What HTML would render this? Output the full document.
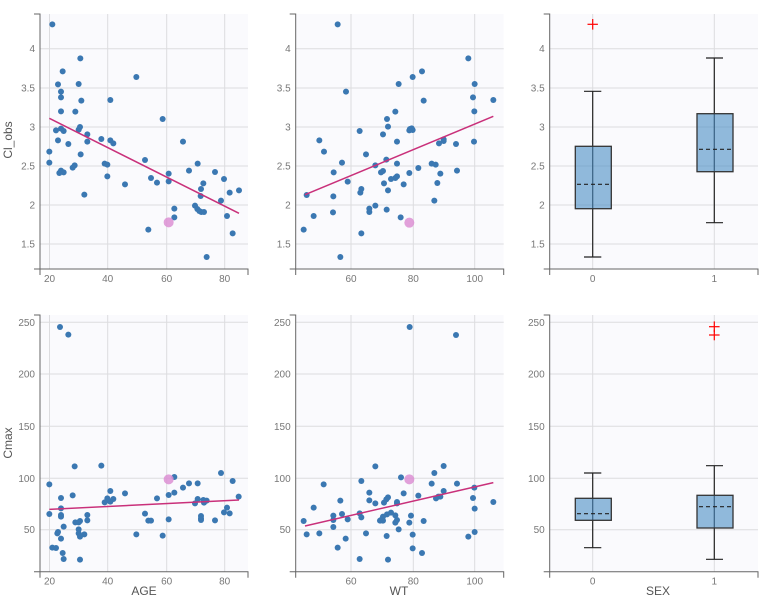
<!DOCTYPE html>
<html><head><meta charset="utf-8"><style>
html,body{margin:0;padding:0;background:#fff;}
svg{display:block;font-family:"Liberation Sans",sans-serif;}
.bg{fill:#fafafd;}
.g{stroke:#dcdcdf;stroke-width:1;}
.ax{stroke:#666;stroke-width:1;fill:none;}
.tl{font-size:10px;fill:#777;}
.tt{font-size:12px;fill:#555;}
.d circle{fill:#3b78b2;}
.bx{fill:#4a8dc4;fill-opacity:0.6;stroke:#333;stroke-width:1.3;}
.wk{stroke:#222;stroke-width:1.2;}
.md{stroke:#222;stroke-width:1.2;stroke-dasharray:4,3;}
.out{stroke:#f00;stroke-width:1.2;}
</style></head><body>
<svg width="768" height="602" viewBox="0 0 768 602" xmlns="http://www.w3.org/2000/svg">
<rect class="bg" x="40" y="14" width="208" height="255"/>
<rect class="bg" x="295.7" y="14" width="208" height="255"/>
<rect class="bg" x="549.7" y="14" width="208.3" height="255"/>
<rect class="bg" x="40" y="315" width="208" height="256.7"/>
<rect class="bg" x="295.7" y="315" width="208" height="256.7"/>
<rect class="bg" x="549.7" y="315" width="208.3" height="256.7"/>

<g class="g">
<line x1="40" x2="248" y1="48.7" y2="48.7"/><line x1="40" x2="248" y1="88" y2="88"/><line x1="40" x2="248" y1="127" y2="127"/><line x1="40" x2="248" y1="166" y2="166"/><line x1="40" x2="248" y1="205" y2="205"/><line x1="40" x2="248" y1="244" y2="244"/>
<line x1="49.5" x2="49.5" y1="14" y2="269"/><line x1="107.7" x2="107.7" y1="14" y2="269"/><line x1="166.7" x2="166.7" y1="14" y2="269"/><line x1="224.7" x2="224.7" y1="14" y2="269"/>
<line x1="295.7" x2="503.7" y1="48.7" y2="48.7"/><line x1="295.7" x2="503.7" y1="88" y2="88"/><line x1="295.7" x2="503.7" y1="127" y2="127"/><line x1="295.7" x2="503.7" y1="166" y2="166"/><line x1="295.7" x2="503.7" y1="205" y2="205"/><line x1="295.7" x2="503.7" y1="244" y2="244"/>
<line x1="351" x2="351" y1="14" y2="269"/><line x1="413.3" x2="413.3" y1="14" y2="269"/><line x1="474.7" x2="474.7" y1="14" y2="269"/>
<line x1="549.7" x2="758" y1="48.7" y2="48.7"/><line x1="549.7" x2="758" y1="88" y2="88"/><line x1="549.7" x2="758" y1="127" y2="127"/><line x1="549.7" x2="758" y1="166" y2="166"/><line x1="549.7" x2="758" y1="205" y2="205"/><line x1="549.7" x2="758" y1="244" y2="244"/>
<line x1="592.7" x2="592.7" y1="14" y2="269"/><line x1="714.3" x2="714.3" y1="14" y2="269"/>
<line x1="40" x2="248" y1="322.3" y2="322.3"/><line x1="40" x2="248" y1="374" y2="374"/><line x1="40" x2="248" y1="426.3" y2="426.3"/><line x1="40" x2="248" y1="478.3" y2="478.3"/><line x1="40" x2="248" y1="529.7" y2="529.7"/>
<line x1="49.5" x2="49.5" y1="315" y2="571.7"/><line x1="107.7" x2="107.7" y1="315" y2="571.7"/><line x1="166.7" x2="166.7" y1="315" y2="571.7"/><line x1="224.7" x2="224.7" y1="315" y2="571.7"/>
<line x1="295.7" x2="503.7" y1="322.3" y2="322.3"/><line x1="295.7" x2="503.7" y1="374" y2="374"/><line x1="295.7" x2="503.7" y1="426.3" y2="426.3"/><line x1="295.7" x2="503.7" y1="478.3" y2="478.3"/><line x1="295.7" x2="503.7" y1="529.7" y2="529.7"/>
<line x1="351" x2="351" y1="315" y2="571.7"/><line x1="413.3" x2="413.3" y1="315" y2="571.7"/><line x1="474.7" x2="474.7" y1="315" y2="571.7"/>
<line x1="549.7" x2="758" y1="322.3" y2="322.3"/><line x1="549.7" x2="758" y1="374" y2="374"/><line x1="549.7" x2="758" y1="426.3" y2="426.3"/><line x1="549.7" x2="758" y1="478.3" y2="478.3"/><line x1="549.7" x2="758" y1="529.7" y2="529.7"/>
<line x1="592.7" x2="592.7" y1="315" y2="571.7"/><line x1="714.3" x2="714.3" y1="315" y2="571.7"/>
</g>

<g transform="scale(0.33333)">
<g class="d">
<circle cx="157" cy="73" r="9"/><circle cx="241" cy="175" r="9"/><circle cx="188" cy="214" r="9"/><circle cx="174" cy="253" r="9"/><circle cx="236" cy="252" r="9"/><circle cx="183" cy="275" r="9"/><circle cx="183" cy="292" r="9"/><circle cx="244" cy="302" r="9"/><circle cx="331" cy="300" r="9"/><circle cx="183" cy="334" r="9"/><circle cx="226" cy="335" r="9"/><circle cx="409" cy="231" r="9"/><circle cx="168" cy="391" r="9"/><circle cx="183" cy="386" r="9"/><circle cx="191" cy="393" r="9"/><circle cx="236" cy="389" r="9"/><circle cx="240" cy="381" r="9"/><circle cx="174" cy="421" r="9"/><circle cx="205" cy="432" r="9"/><circle cx="262" cy="403" r="9"/><circle cx="262" cy="425" r="9"/><circle cx="304" cy="417" r="9"/><circle cx="331" cy="421" r="9"/><circle cx="340" cy="430" r="9"/><circle cx="488" cy="357" r="9"/><circle cx="549" cy="425" r="9"/><circle cx="148" cy="455" r="9"/><circle cx="148" cy="488" r="9"/><circle cx="435" cy="480" r="9"/><circle cx="178" cy="519" r="9"/><circle cx="183" cy="512" r="9"/><circle cx="191" cy="517" r="9"/><circle cx="218" cy="503" r="9"/><circle cx="224" cy="496" r="9"/><circle cx="242" cy="463" r="9"/><circle cx="314" cy="491" r="9"/><circle cx="322" cy="494" r="9"/><circle cx="322" cy="529" r="9"/><circle cx="375" cy="553" r="9"/><circle cx="453" cy="534" r="9"/><circle cx="471" cy="548" r="9"/><circle cx="506" cy="521" r="9"/><circle cx="506" cy="544" r="9"/><circle cx="567" cy="512" r="9"/><circle cx="593" cy="491" r="9"/><circle cx="645" cy="516" r="9"/><circle cx="672" cy="537" r="9"/><circle cx="603" cy="567" r="9"/><circle cx="602" cy="588" r="9"/><circle cx="610" cy="550" r="9"/><circle cx="689" cy="578" r="9"/><circle cx="717" cy="571" r="9"/><circle cx="663" cy="602" r="9"/><circle cx="253" cy="584" r="9"/><circle cx="585" cy="617" r="9"/><circle cx="592" cy="627" r="9"/><circle cx="598" cy="633" r="9"/><circle cx="604" cy="636" r="9"/><circle cx="612" cy="636" r="9"/><circle cx="523" cy="626" r="9"/><circle cx="523" cy="652" r="9"/><circle cx="681" cy="648" r="9"/><circle cx="445" cy="689" r="9"/><circle cx="698" cy="700" r="9"/><circle cx="620" cy="771" r="9"/>
</g>
<circle cx="506" cy="667" r="15" fill="#dc8fd4" fill-opacity="0.85"/>
<line x1="148" y1="355" x2="717" y2="640" stroke="#c9307a" stroke-width="4.5"/>
</g>

<g transform="translate(256,0) scale(0.33333)">
<g class="d">
<circle cx="245" cy="73" r="9"/><circle cx="637" cy="175" r="9"/><circle cx="498" cy="214" r="9"/><circle cx="470" cy="231" r="9"/><circle cx="428" cy="252" r="9"/><circle cx="656" cy="252" r="9"/><circle cx="270" cy="275" r="9"/><circle cx="651" cy="292" r="9"/><circle cx="503" cy="302" r="9"/><circle cx="712" cy="300" r="9"/><circle cx="418" cy="335" r="9"/><circle cx="655" cy="334" r="9"/><circle cx="393" cy="357" r="9"/><circle cx="396" cy="380" r="9"/><circle cx="311" cy="393" r="9"/><circle cx="381" cy="403" r="9"/><circle cx="462" cy="387" r="9"/><circle cx="467" cy="385" r="9"/><circle cx="470" cy="390" r="9"/><circle cx="460" cy="391" r="9"/><circle cx="190" cy="421" r="9"/><circle cx="423" cy="425" r="9"/><circle cx="563" cy="418" r="9"/><circle cx="563" cy="423" r="9"/><circle cx="549" cy="430" r="9"/><circle cx="600" cy="432" r="9"/><circle cx="654" cy="425" r="9"/><circle cx="204" cy="455" r="9"/><circle cx="330" cy="463" r="9"/><circle cx="258" cy="488" r="9"/><circle cx="358" cy="496" r="9"/><circle cx="423" cy="491" r="9"/><circle cx="527" cy="491" r="9"/><circle cx="539" cy="494" r="9"/><circle cx="233" cy="517" r="9"/><circle cx="375" cy="517" r="9"/><circle cx="381" cy="513" r="9"/><circle cx="391" cy="479" r="9"/><circle cx="460" cy="519" r="9"/><circle cx="487" cy="504" r="9"/><circle cx="553" cy="521" r="9"/><circle cx="418" cy="534" r="9"/><circle cx="423" cy="529" r="9"/><circle cx="405" cy="537" r="9"/><circle cx="275" cy="545" r="9"/><circle cx="384" cy="550" r="9"/><circle cx="443" cy="553" r="9"/><circle cx="544" cy="549" r="9"/><circle cx="603" cy="512" r="9"/><circle cx="316" cy="567" r="9"/><circle cx="313" cy="578" r="9"/><circle cx="396" cy="571" r="9"/><circle cx="152" cy="585" r="9"/><circle cx="232" cy="589" r="9"/><circle cx="535" cy="602" r="9"/><circle cx="358" cy="617" r="9"/><circle cx="340" cy="626" r="9"/><circle cx="340" cy="636" r="9"/><circle cx="392" cy="629" r="9"/><circle cx="231" cy="637" r="9"/><circle cx="173" cy="648" r="9"/><circle cx="434" cy="652" r="9"/><circle cx="143" cy="689" r="9"/><circle cx="316" cy="700" r="9"/><circle cx="253" cy="771" r="9"/>
</g>
<circle cx="460" cy="668" r="15" fill="#dc8fd4" fill-opacity="0.85"/>
<line x1="147" y1="584" x2="712" y2="349" stroke="#c9307a" stroke-width="4.5"/>
</g>

<g transform="translate(0,300) scale(0.33333)">
<g class="d">
<circle cx="180" cy="81" r="9"/><circle cx="205" cy="104" r="9"/><circle cx="224" cy="499" r="9"/><circle cx="304" cy="497" r="9"/><circle cx="148" cy="553" r="9"/><circle cx="663" cy="519" r="9"/><circle cx="698" cy="543" r="9"/><circle cx="523" cy="531" r="9"/><circle cx="567" cy="550" r="9"/><circle cx="593" cy="550" r="9"/><circle cx="549" cy="563" r="9"/><circle cx="218" cy="586" r="9"/><circle cx="183" cy="594" r="9"/><circle cx="375" cy="580" r="9"/><circle cx="471" cy="595" r="9"/><circle cx="506" cy="585" r="9"/><circle cx="523" cy="578" r="9"/><circle cx="314" cy="607" r="9"/><circle cx="322" cy="600" r="9"/><circle cx="331" cy="605" r="9"/><circle cx="322" cy="595" r="9"/><circle cx="340" cy="597" r="9"/><circle cx="331" cy="573" r="9"/><circle cx="593" cy="597" r="9"/><circle cx="585" cy="610" r="9"/><circle cx="610" cy="600" r="9"/><circle cx="620" cy="602" r="9"/><circle cx="612" cy="608" r="9"/><circle cx="716" cy="590" r="9"/><circle cx="183" cy="625" r="9"/><circle cx="183" cy="645" r="9"/><circle cx="183" cy="650" r="9"/><circle cx="148" cy="642" r="9"/><circle cx="262" cy="645" r="9"/><circle cx="262" cy="661" r="9"/><circle cx="240" cy="663" r="9"/><circle cx="236" cy="667" r="9"/><circle cx="226" cy="667" r="9"/><circle cx="435" cy="641" r="9"/><circle cx="445" cy="662" r="9"/><circle cx="453" cy="662" r="9"/><circle cx="506" cy="658" r="9"/><circle cx="603" cy="648" r="9"/><circle cx="603" cy="655" r="9"/><circle cx="603" cy="660" r="9"/><circle cx="645" cy="661" r="9"/><circle cx="672" cy="637" r="9"/><circle cx="681" cy="623" r="9"/><circle cx="689" cy="640" r="9"/><circle cx="191" cy="680" r="9"/><circle cx="174" cy="696" r="9"/><circle cx="172" cy="700" r="9"/><circle cx="236" cy="688" r="9"/><circle cx="236" cy="700" r="9"/><circle cx="240" cy="710" r="9"/><circle cx="253" cy="703" r="9"/><circle cx="183" cy="716" r="9"/><circle cx="409" cy="703" r="9"/><circle cx="488" cy="707" r="9"/><circle cx="157" cy="743" r="9"/><circle cx="168" cy="744" r="9"/><circle cx="188" cy="759" r="9"/><circle cx="191" cy="777" r="9"/><circle cx="240" cy="779" r="9"/>
</g>
<circle cx="506" cy="538" r="15" fill="#dc8fd4" fill-opacity="0.85"/>
<line x1="148" y1="628" x2="717" y2="600" stroke="#c9307a" stroke-width="4.5"/>
</g>

<g transform="translate(256,300) scale(0.33333)">
<g class="d">
<circle cx="461" cy="81" r="9"/><circle cx="600" cy="105" r="9"/><circle cx="358" cy="499" r="9"/><circle cx="563" cy="498" r="9"/><circle cx="435" cy="532" r="9"/><circle cx="535" cy="519" r="9"/><circle cx="603" cy="551" r="9"/><circle cx="527" cy="551" r="9"/><circle cx="203" cy="553" r="9"/><circle cx="316" cy="543" r="9"/><circle cx="655" cy="563" r="9"/><circle cx="563" cy="573" r="9"/><circle cx="340" cy="578" r="9"/><circle cx="443" cy="580" r="9"/><circle cx="487" cy="587" r="9"/><circle cx="547" cy="590" r="9"/><circle cx="540" cy="595" r="9"/><circle cx="553" cy="590" r="9"/><circle cx="396" cy="592" r="9"/><circle cx="391" cy="598" r="9"/><circle cx="253" cy="602" r="9"/><circle cx="340" cy="601" r="9"/><circle cx="358" cy="610" r="9"/><circle cx="384" cy="608" r="9"/><circle cx="423" cy="610" r="9"/><circle cx="423" cy="606" r="9"/><circle cx="651" cy="594" r="9"/><circle cx="712" cy="606" r="9"/><circle cx="173" cy="623" r="9"/><circle cx="258" cy="642" r="9"/><circle cx="311" cy="640" r="9"/><circle cx="316" cy="652" r="9"/><circle cx="232" cy="647" r="9"/><circle cx="232" cy="660" r="9"/><circle cx="275" cy="658" r="9"/><circle cx="405" cy="638" r="9"/><circle cx="393" cy="643" r="9"/><circle cx="381" cy="650" r="9"/><circle cx="418" cy="646" r="9"/><circle cx="465" cy="647" r="9"/><circle cx="656" cy="626" r="9"/><circle cx="143" cy="663" r="9"/><circle cx="375" cy="660" r="9"/><circle cx="381" cy="662" r="9"/><circle cx="372" cy="662" r="9"/><circle cx="423" cy="660" r="9"/><circle cx="418" cy="668" r="9"/><circle cx="460" cy="668" r="9"/><circle cx="503" cy="663" r="9"/><circle cx="232" cy="681" r="9"/><circle cx="428" cy="688" r="9"/><circle cx="152" cy="703" r="9"/><circle cx="190" cy="700" r="9"/><circle cx="330" cy="700" r="9"/><circle cx="269" cy="716" r="9"/><circle cx="392" cy="708" r="9"/><circle cx="470" cy="704" r="9"/><circle cx="637" cy="710" r="9"/><circle cx="656" cy="696" r="9"/><circle cx="245" cy="743" r="9"/><circle cx="470" cy="745" r="9"/><circle cx="498" cy="759" r="9"/><circle cx="311" cy="777" r="9"/><circle cx="396" cy="779" r="9"/>
</g>
<circle cx="460" cy="538" r="15" fill="#dc8fd4" fill-opacity="0.85"/>
<line x1="147" y1="678" x2="712" y2="548" stroke="#c9307a" stroke-width="4.5"/>
</g>

<line class="wk" x1="592.7" x2="592.7" y1="91.3" y2="257"/>
<line class="wk" x1="584" x2="601.3" y1="91.3" y2="91.3"/>
<line class="wk" x1="584" x2="601.3" y1="257" y2="257"/>
<rect class="bx" x="575.3" y="146.3" width="36" height="62.4"/>
<line class="md" x1="577" x2="610" y1="184.3" y2="184.3"/>
<line class="out" x1="587.5" x2="597.9" y1="24.3" y2="24.3"/><line class="out" x1="592.7" x2="592.7" y1="19" y2="29.6"/>
<line class="wk" x1="714.3" x2="714.3" y1="58" y2="222.7"/>
<line class="wk" x1="706" x2="723" y1="58" y2="58"/>
<line class="wk" x1="706" x2="723" y1="222.7" y2="222.7"/>
<rect class="bx" x="697" y="113.7" width="36" height="58"/>
<line class="md" x1="699" x2="732" y1="149.3" y2="149.3"/>

<line class="wk" x1="592.7" x2="592.7" y1="473" y2="547.7"/>
<line class="wk" x1="584" x2="601.3" y1="473" y2="473"/>
<line class="wk" x1="584" x2="601.3" y1="547.7" y2="547.7"/>
<rect class="bx" x="575.3" y="498.3" width="36" height="22"/>
<line class="md" x1="577" x2="610" y1="513.7" y2="513.7"/>
<line class="wk" x1="714.3" x2="714.3" y1="465.7" y2="559.3"/>
<line class="wk" x1="706" x2="723" y1="465.7" y2="465.7"/>
<line class="wk" x1="706" x2="723" y1="559.3" y2="559.3"/>
<rect class="bx" x="697" y="495.3" width="36" height="32.7"/>
<line class="md" x1="699" x2="732" y1="506.7" y2="506.7"/>
<line class="out" x1="709" x2="719.6" y1="326.7" y2="326.7"/><line class="out" x1="714.3" x2="714.3" y1="321.4" y2="332"/>
<line class="out" x1="709" x2="719.6" y1="335" y2="335"/><line class="out" x1="714.3" x2="714.3" y1="329.7" y2="340.3"/>

<g class="ax">
<path d="M34,14H40V269H34"/><path d="M40,275V269H248V275"/>
<path d="M289.7,14H295.7V269H289.7"/><path d="M295.7,275V269H503.7V275"/>
<path d="M543.7,14H549.7V269H543.7"/><path d="M549.7,275V269H758V275"/>
<path d="M34,315H40V571.7H34"/><path d="M40,577.7V571.7H248V577.7"/>
<path d="M289.7,315H295.7V571.7H289.7"/><path d="M295.7,577.7V571.7H503.7V577.7"/>
<path d="M543.7,315H549.7V571.7H543.7"/><path d="M549.7,577.7V571.7H758V577.7"/>
</g>

<g class="tl" text-anchor="end">
<text x="35" y="52">4</text><text x="35" y="91.5">3.5</text><text x="35" y="130.5">3</text><text x="35" y="169.5">2.5</text><text x="35" y="208.5">2</text><text x="35" y="247.5">1.5</text>
<text x="290.7" y="52">4</text><text x="290.7" y="91.5">3.5</text><text x="290.7" y="130.5">3</text><text x="290.7" y="169.5">2.5</text><text x="290.7" y="208.5">2</text><text x="290.7" y="247.5">1.5</text>
<text x="544.7" y="52">4</text><text x="544.7" y="91.5">3.5</text><text x="544.7" y="130.5">3</text><text x="544.7" y="169.5">2.5</text><text x="544.7" y="208.5">2</text><text x="544.7" y="247.5">1.5</text>
<text x="35" y="325.8">250</text><text x="35" y="377.5">200</text><text x="35" y="429.8">150</text><text x="35" y="481.8">100</text><text x="35" y="533.2">50</text>
<text x="290.7" y="325.8">250</text><text x="290.7" y="377.5">200</text><text x="290.7" y="429.8">150</text><text x="290.7" y="481.8">100</text><text x="290.7" y="533.2">50</text>
<text x="544.7" y="325.8">250</text><text x="544.7" y="377.5">200</text><text x="544.7" y="429.8">150</text><text x="544.7" y="481.8">100</text><text x="544.7" y="533.2">50</text>
</g>
<g class="tl" text-anchor="middle">
<text x="49.5" y="282">20</text><text x="107.7" y="282">40</text><text x="166.7" y="282">60</text><text x="224.7" y="282">80</text>
<text x="351" y="282">60</text><text x="413.3" y="282">80</text><text x="474.7" y="282">100</text>
<text x="592.7" y="282">0</text><text x="714.3" y="282">1</text>
<text x="49.5" y="584.5">20</text><text x="107.7" y="584.5">40</text><text x="166.7" y="584.5">60</text><text x="224.7" y="584.5">80</text>
<text x="351" y="584.5">60</text><text x="413.3" y="584.5">80</text><text x="474.7" y="584.5">100</text>
<text x="592.7" y="584.5">0</text><text x="714.3" y="584.5">1</text>
</g>
<g class="tt" text-anchor="middle">
<text transform="translate(12,140) rotate(-90)">Cl_obs</text>
<text transform="translate(12,443) rotate(-90)">Cmax</text>
<text x="144" y="595">AGE</text>
<text x="399" y="595">WT</text>
<text x="658" y="595">SEX</text>
</g>
</svg>
</body></html>
